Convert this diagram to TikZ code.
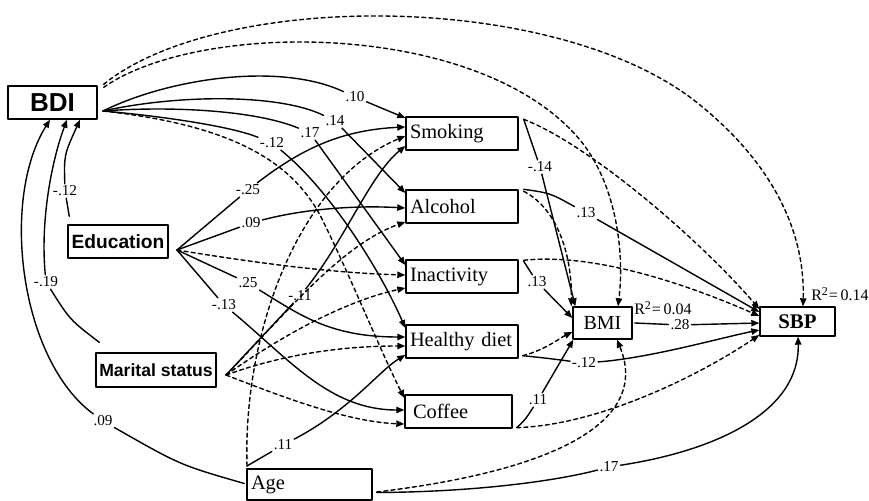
\documentclass[tikz,border=0pt]{standalone}
\usepackage{fontspec}
\setmainfont{Liberation Serif}
\newfontfamily\hv{Liberation Sans}
\usetikzlibrary{arrows.meta}
\begin{document}
\begin{tikzpicture}[line cap=round,line join=round,>={Triangle[length=4pt,width=3.2pt]},x=0.5pt,y=-0.5pt,
  box/.style={draw,line width=0.7pt,inner sep=0pt,minimum height=16.5pt},
  lbox/.style={box,inner xsep=2pt,align=left,font=\fontsize{10.2}{12}\selectfont},
  lbl/.style={inner sep=0.8pt,font=\fontsize{7.6}{8}\selectfont},
  eff/.style={line width=0.7pt},
  ns/.style={line width=0.7pt,dash pattern=on 2pt off 1.6pt}]
\useasboundingbox (0,0) rectangle (869,501);
\node[box,minimum width=44.5pt,font=\hv\bfseries\fontsize{13}{14}\selectfont] (bdi) at (52.5,102.5) {BDI};
\node[box,minimum width=50pt,font=\hv\bfseries\fontsize{9.6}{11}\selectfont] (edu) at (118,241.5) {Education};
\node[box,minimum width=60pt,minimum height=17pt,font=\hv\bfseries\fontsize{8.8}{10}\selectfont] (mar) at (156,370) {Marital status};
\node[lbox,text width=58.5pt,minimum height=15.5pt] (age) at (309.5,484.5) {Age};
\node[lbox,text width=52pt] (smok) at (462,133.5) {Smoking};
\node[lbox,text width=52pt] (alc) at (462,206.5) {Alcohol};
\node[lbox,text width=52pt] (inac) at (462,276.5) {Inactivity};
\node[lbox,text width=52pt] (diet) at (462,341.5) {Healthy diet};
\node[lbox,inner xsep=4pt,text width=45.5pt] (coff) at (458.5,411.5) {Coffee};
\node[box,minimum width=29.5pt,minimum height=16pt,font=\fontsize{10}{12}\selectfont] (bmi) at (602.5,323) {BMI};
\node[box,minimum width=37.5pt,minimum height=14.5pt,font=\bfseries\fontsize{10.4}{12}\selectfont] (sbp) at (797.5,321.5) {SBP};
\coordinate (bdiO) at (103,111);
\coordinate (eduO) at (177,250);
\coordinate (marO) at (226,375);
\coordinate (ageO) at (247,466);
\node[lbl] (l10) at (355,97) {.10};
\node[lbl] (l14) at (335,121) {.14};
\node[lbl] (l17) at (310,133) {.17};
\node[lbl] (lm12) at (272,143) {-.12};
\node[lbl] (lbdi12) at (65,191) {-.12};
\node[lbl] (lm19) at (46,282) {-.19};
\node[lbl] (l09b) at (103,421) {.09};
\node[lbl] (lm25) at (248,190) {-.25};
\node[lbl] (l09) at (251,223) {.09};
\node[lbl] (l25) at (248,283) {.25};
\node[lbl] (lm13) at (224,305) {-.13};
\node[lbl] (lm11) at (300,296) {-.11};
\node[lbl] (l11a) at (283,445) {.11};
\node[lbl] (lm14) at (540,167) {-.14};
\node[lbl] (l13a) at (586,213) {.13};
\node[lbl] (l13b) at (537,282) {.13};
\node[lbl] (lm12b) at (584,363) {-.12};
\node[lbl] (l11b) at (538,400) {.11};
\node[lbl,inner ysep=0pt] (l28) at (680,325) {.28};
\node[lbl] (l17b) at (609,467) {.17};
\node[lbl,font=\fontsize{8}{9}\selectfont] (r2bmi) at (663,308) {R\textsuperscript{2}=\,0.04};
\node[lbl,font=\fontsize{8}{9}\selectfont] (r2sbp) at (840,294) {R\textsuperscript{2}=\,0.14};
\draw[eff,->] (bdiO) .. controls (170,78) and (280,62) .. (l10) -- ([shift={(0,-15.5)}]smok.west);
\draw[eff,->] (bdiO) .. controls (180,94) and (280,94) .. (l14) -- ([shift={(0,-13.5)}]alc.west);
\draw[eff,->] (bdiO) .. controls (170,106) and (255,110) .. (l17) -- ([shift={(0,-11.5)}]inac.west);
\draw[eff,->] (bdiO) .. controls (160,116) and (230,126) .. (lm12) .. controls (330,190) and (380,270) .. ([shift={(0,-13.5)}]diet.west);
\draw[ns,->] (bdiO) .. controls (230,125) and (290,160) .. (320,215) .. controls (350,275) and (380,350) .. ([shift={(0,-13.5)}]coff.west);
\draw[ns,->] ([shift={(6,2)}]bdi.north east) .. controls (200,20) and (480,20) .. (580,140) .. controls (615,182) and (625,250) .. ([shift={(15.5,0)}]bmi.north);
\draw[ns,->] ([shift={(6,-1)}]bdi.north east) .. controls (220,-10) and (560,-10) .. (700,105) .. controls (780,170) and (805,240) .. ([shift={(5.5,0)}]sbp.north);
\draw[eff,->] ([shift={(2,-8)}]edu.north west) -- (lbdi12) .. controls (64,155) .. ([shift={(27.5,0)}]bdi.south);
\draw[eff,->] ([shift={(4,-10)}]mar.north west) .. controls (70,320) .. (lm19) .. controls (40,220) and (52,160) .. ([shift={(14.5,0)}]bdi.south);
\draw[eff,->] ([shift={(-2,-1)}]age.west) .. controls (180,465) .. (l09b) .. controls (20,360) and (0,200) .. ([shift={(-2.5,0)}]bdi.south);
\draw[eff,->] (eduO) -- (lm25) .. controls (300,150) and (340,130) .. ([shift={(0,-6.5)}]smok.west);
\draw[eff,->] (eduO) -- (l09) .. controls (300,210) and (350,205) .. ([shift={(0,1.5)}]alc.west);
\draw[ns,->] (eduO) .. controls (250,262) and (330,273) .. ([shift={(0,-1.5)}]inac.west);
\draw[eff,->] (eduO) -- (l25) .. controls (300,315) and (330,337) .. ([shift={(0,-4.5)}]diet.west);
\draw[eff,->] (eduO) -- (lm13) .. controls (290,360) and (330,410) .. ([shift={(0,-1.5)}]coff.west);
\draw[eff,->] (marO) -- (lm11) .. controls (345,240) and (370,175) .. ([shift={(0,12.5)}]smok.west);
\draw[ns,->] (marO) .. controls (280,320) and (340,245) .. ([shift={(0,15.5)}]alc.west);
\draw[ns,->] (marO) .. controls (290,330) and (350,300) .. ([shift={(0,11.5)}]inac.west);
\draw[ns,->] (marO) .. controls (290,352) and (350,346) .. ([shift={(0,4.5)}]diet.west);
\draw[ns,->] (marO) .. controls (290,400) and (350,422) .. ([shift={(0,12.5)}]coff.west);
\draw[ns,->] (ageO) .. controls (243,330) and (300,180) .. ([shift={(0,2.5)}]smok.west);
\draw[eff,->] (ageO) -- (l11a) .. controls (350,410) and (380,370) .. ([shift={(0,13.5)}]diet.west);
\draw[ns,->] ([shift={(4,7.5)}]age.east) .. controls (560,470) and (650,420) .. ([shift={(14.5,0)}]bmi.south);
\draw[eff,->] ([shift={(4,8)}]age.east) .. controls (480,492) and (560,480) .. (l17b) .. controls (720,450) and (800,410) .. ([shift={(0.5,0)}]sbp.south);
\draw[eff,->] ([shift={(5,3)}]smok.north east) -- (lm14) -- ([shift={(3,0)}]bmi.north west);
\draw[ns,->] ([shift={(5,3)}]smok.north east) .. controls (590,145) and (700,240) .. ([shift={(0,-12.5)}]sbp.west);
\draw[eff,->] ([shift={(5,0)}]alc.north east) .. controls (550,193) .. (l13a) -- ([shift={(0,-9.5)}]sbp.west);
\draw[ns,->] ([shift={(5,2)}]alc.north east) .. controls (560,210) and (572,260) .. ([shift={(-1,0)}]bmi.north west);
\draw[ns,->] ([shift={(5,1)}]inac.north east) .. controls (600,252) and (700,290) .. ([shift={(0,-5.5)}]sbp.west);
\draw[eff,->] ([shift={(5,2)}]inac.north east) -- (l13b) -- ([shift={(0,-5)}]bmi.west);
\draw[ns,->] ([shift={(4,-3)}]diet.south east) .. controls (545,350) and (560,338) .. ([shift={(0,9)}]bmi.west);
\draw[eff,->] ([shift={(4,-3)}]diet.south east) .. controls (545,358) .. (lm12b) .. controls (650,358) and (720,338) .. ([shift={(0,8.5)}]sbp.west);
\draw[eff,->] ([shift={(4,-1)}]coff.south east) .. controls (525,420) .. (l11b) -- ([shift={(1,0)}]bmi.south west);
\draw[ns,->] ([shift={(4,-1)}]coff.south east) .. controls (600,425) and (700,375) .. ([shift={(0,13.5)}]sbp.west);
\draw[eff,->] ([shift={(2,0)}]bmi.east) -- (l28) -- ([shift={(0,1.5)}]sbp.west);
\end{tikzpicture}
\end{document}
